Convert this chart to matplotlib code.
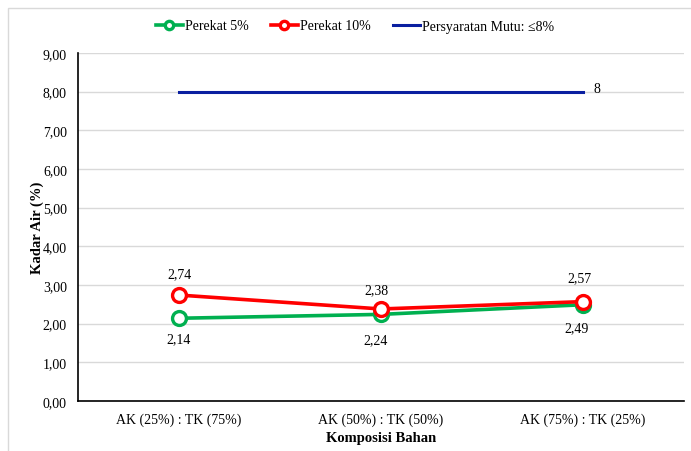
import numpy as np
import matplotlib.pyplot as plt
from matplotlib.patches import Rectangle

plt.rcParams['font.family'] = ['Liberation Serif', 'DejaVu Serif']

# data
komposisi = ['AK (25%) : TK (75%)', 'AK (50%) : TK (50%)', 'AK (75%) : TK (25%)']
perekat_5 = [2.14, 2.24, 2.49]
perekat_10 = [2.74, 2.38, 2.57]
mutu = [8, 8, 8]
y_ticks = [0, 1, 2, 3, 4, 5, 6, 7, 8, 9]

x = np.arange(len(komposisi))

fig = plt.figure(figsize=(6.91, 4.52), dpi=100)
ax = fig.add_axes([78 / 691, 1 - 402 / 452, 606 / 691, 348 / 452])

# light frame around the chart area
fig.patches.append(Rectangle((8 / 691, -0.5), 2, 1.5 - 9 / 452,
                             transform=fig.transFigure, fill=False,
                             edgecolor='#d9d9d9', linewidth=1))

ax.plot(x, perekat_5, color='#00b050', linewidth=2.6, marker='o', markersize=10,
        markerfacecolor='white', markeredgewidth=2.4, label='Perekat 5%', zorder=3)
ax.plot(x, perekat_10, color='#ff0000', linewidth=2.6, marker='o', markersize=10,
        markerfacecolor='white', markeredgewidth=2.4, label='Perekat 10%', zorder=4)
ax.plot(x, mutu, color='#0a1fa0', linewidth=2.2, label='Persyaratan Mutu: \u22648%', zorder=2)

# value labels
off_10 = [(0, 21), (-5, 19), (-4, 24)]
off_5 = [(0, -20), (-5, -25), (-6, -23)]
for i, v in enumerate(perekat_10):
    ax.annotate(f'{v:.2f}'.replace('.', ','), (x[i], v), xytext=off_10[i],
                textcoords='offset pixels', ha='center', va='center', fontsize=10,
                arrowprops=dict(arrowstyle='-', color='#a6a6a6', lw=0.6,
                                shrinkA=6, shrinkB=2) if i > 0 else None)
for i, v in enumerate(perekat_5):
    ax.annotate(f'{v:.2f}'.replace('.', ','), (x[i], v), xytext=off_5[i],
                textcoords='offset pixels', ha='center', va='center', fontsize=10)
ax.annotate('8', (x[-1], mutu[-1]), xytext=(14, 3), textcoords='offset pixels',
            ha='center', va='center', fontsize=10)

ax.set_xlim(-0.5, 2.5)
ax.set_ylim(0, 9)
ax.set_xticks(x)
ax.set_xticklabels(komposisi, fontsize=10)
ax.set_yticks(y_ticks)
ax.set_yticklabels([f'{t:.2f}'.replace('.', ',') for t in y_ticks], fontsize=10)
ax.tick_params(length=0, pad=8)
ax.grid(axis='y', color='#d9d9d9', linewidth=1)
ax.set_axisbelow(True)
for s in ['top', 'right']:
    ax.spines[s].set_visible(False)
for s in ['left', 'bottom']:
    ax.spines[s].set_color('black')
    ax.spines[s].set_linewidth(1.2)

ax.set_xlabel('Komposisi Bahan', fontsize=10.5, fontweight='bold', labelpad=4)
ax.set_ylabel('Kadar Air (%)', fontsize=10.5, fontweight='bold', labelpad=-1)

fig.legend(loc='center', bbox_to_anchor=(355 / 691, 1 - 27 / 452), ncol=3,
           frameon=False, fontsize=10, handlelength=1.95, handletextpad=0.15,
           columnspacing=1.6, markerscale=0.6)

fig.savefig('out.png', dpi=100)
